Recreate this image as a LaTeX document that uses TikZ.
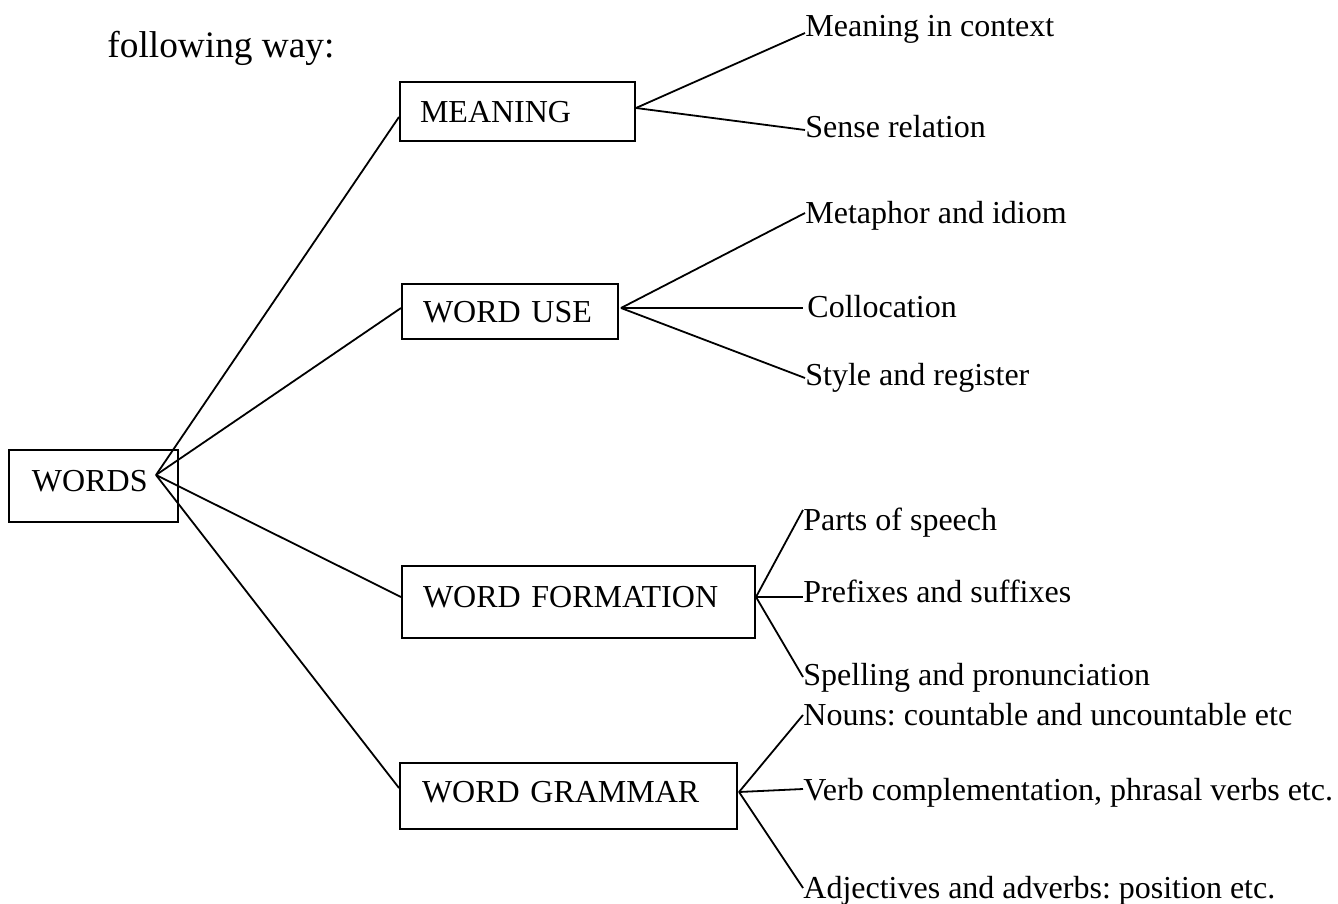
\documentclass[tikz,border=0pt]{standalone}
\usepackage{fontspec}
\setmainfont{Liberation Serif}
\frenchspacing
\begin{document}
\begin{tikzpicture}[x=0.5pt,y=-0.5pt,
  box/.style={draw, line width=1pt, inner ysep=0pt, align=left, text height=10.6pt,
              font=\fontsize{16}{19}\selectfont},
  leaf/.style={anchor=base west, inner sep=0pt, font=\fontsize{16}{19}\selectfont},
  heading/.style={anchor=base west, inner sep=0pt, font=\fontsize{18.67}{22}\selectfont},
  link/.style={line width=0.9pt}]
\useasboundingbox (0,0) rectangle (1338,904);

\node[heading] (head) at (107,58) {following way:};

% boxes
\node[box, minimum width=84.5pt, minimum height=36pt, inner xsep=11.5pt, text width=61.5pt, text depth=5.5pt] (words) at (93.5,486) {WORDS};
\node[box, minimum width=117.5pt, minimum height=29.5pt, inner xsep=10pt, text width=97.5pt, text depth=0pt] (meaning) at (517.5,111.5) {MEANING};
\node[box, minimum width=108pt, minimum height=27.5pt, inner xsep=10.5pt, text width=87pt, text depth=0pt] (worduse) at (510,311.5) {WORD USE};
\node[box, minimum width=176.5pt, minimum height=36pt, inner xsep=10.5pt, text width=155.5pt, text depth=5.5pt] (wordform) at (578.5,602) {WORD FORMATION};
\node[box, minimum width=168.5pt, minimum height=33pt, inner xsep=11pt, text width=146.5pt, text depth=4.5pt] (wordgram) at (568.5,796) {WORD GRAMMAR};

% leaves
\node[leaf] (m1) at (805,37) {Meaning in context};
\node[leaf] (m2) at (805,138) {Sense relation};
\node[leaf] (u1) at (805,223) {Metaphor and idiom};
\node[leaf] (u2) at (807,317) {Collocation};
\node[leaf] (u3) at (805,385) {Style and register};
\node[leaf] (f1) at (803,530) {Parts of speech};
\node[leaf] (f2) at (803,602) {Prefixes and suffixes};
\node[leaf] (f3) at (803,685) {Spelling and pronunciation};
\node[leaf] (g1) at (803,725) {Nouns: countable and uncountable etc};
\node[leaf] (g2) at (803,800) {Verb complementation, phrasal verbs etc.};
\node[leaf] (g3) at (803,898) {Adjectives and adverbs: position etc.};

% junction points
\coordinate (wj) at ([xshift=-11.5pt,yshift=5.5pt]words.east);
\coordinate (mj) at ([yshift=1.75pt]meaning.east);
\coordinate (uj) at ([xshift=1pt,yshift=1.75pt]worduse.east);
\coordinate (fj) at ([yshift=2.5pt]wordform.east);
\coordinate (gj) at ([xshift=0.5pt,yshift=2pt]wordgram.east);

% first level
\draw[link] (wj) -- ([yshift=-2.75pt]meaning.west);
\draw[link] (wj) -- ([yshift=1.75pt]worduse.west);
\draw[link] (wj) -- ([yshift=2.5pt]wordform.west);
\draw[link] (wj) -- ([yshift=4pt]wordgram.west);

% second level
\draw[link] (mj) -- ([yshift=2pt]m1.base west);
\draw[link] (mj) -- ([yshift=4pt]m2.base west);
\draw[link] (uj) -- ([yshift=5pt]u1.base west);
\draw[link] (uj) -- ([xshift=-2pt,yshift=4.5pt]u2.base west);
\draw[link] (uj) -- ([yshift=3.5pt]u3.base west);
\draw[link] (fj) -- ([yshift=10pt]f1.base west);
\draw[link] (fj) -- ([yshift=2.5pt]f2.base west);
\draw[link] (fj) -- ([yshift=4pt]f3.base west);
\draw[link] (gj) -- ([yshift=5pt]g1.base west);
\draw[link] (gj) -- ([yshift=5.5pt]g2.base west);
\draw[link] (gj) -- ([yshift=5pt]g3.base west);
\end{tikzpicture}
\end{document}
